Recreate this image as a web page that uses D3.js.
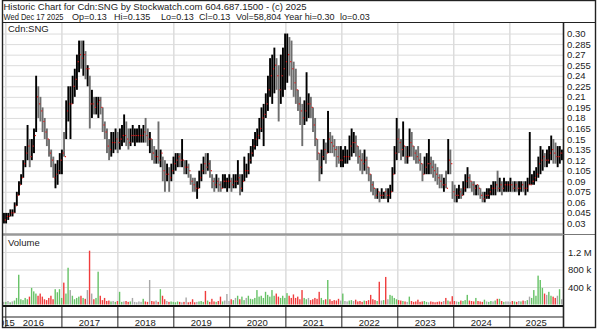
<!DOCTYPE html>
<html lang="en">
<head>
  <meta charset="utf-8">
  <title>Historic Chart for Cdn:SNG</title>
  <script src="https://cdn.jsdelivr.net/npm/d3@7/dist/d3.min.js"></script>
  <style>
    body { margin: 0; background: #fff; }
    text { font-family: "Liberation Sans", Arial, sans-serif; fill: #222; }
  </style>
</head>
<body>
  <svg class="chart" width="600" height="334"></svg>
  <script>
    var width = 600, height = 334;

    // time range: ten years, sampled every two weeks
    var startDate = new Date(2015, 11, 17), endDate = new Date(2025, 11, 17);
    var stepDays = 14;

    var years = [2015, 2016, 2017, 2018, 2019, 2020, 2021, 2022, 2023, 2024, 2025];
    var priceTicks = [0.03, 0.045, 0.06, 0.075, 0.09, 0.105, 0.12, 0.135, 0.15, 0.165,
                      0.18, 0.195, 0.21, 0.225, 0.24, 0.255, 0.27, 0.285, 0.30];
    var volTicks = [400000, 800000, 1200000];
    var volTickLabels = ["400 k", "800 k", "1.2 M"];

    var titleLine = "Historic Chart for Cdn:SNG by Stockwatch.com 604.687.1500 - (c) 2025";
    var quoteFields = ["Wed Dec 17 2025", "Op=0.13", "Hi=0.135", "Lo=0.13", "Cl=0.13",
                       "Vol=58,804", "Year hi=0.30", "lo=0.03"];

    // one row per year (first value is Dec 2015)
    var high = [.045,
      .045,.045,.05,.05,.06,.075,.09,.10,.12,.14,.17,.15,.15,.165,.24,.225,.21,.195,.18,.165,.15,.135,.125,.115,.12,.13,
      .135,.16,.205,.225,.225,.24,.25,.27,.29,.29,.29,.275,.255,.24,.22,.21,.21,.21,.21,.195,.175,.165,.15,.16,.16,.165,
      .16,.165,.17,.185,.175,.165,.165,.17,.165,.165,.17,.165,.17,.18,.165,.16,.15,.14,.135,.175,.135,.125,.12,.115,.11,.115,
      .125,.13,.13,.13,.15,.12,.12,.115,.10,.095,.095,.09,.105,.115,.125,.13,.13,.12,.10,.095,.10,.095,.09,.10,.10,.095,
      .10,.095,.10,.10,.12,.10,.10,.125,.115,.13,.14,.15,.16,.165,.18,.195,.20,.215,.24,.265,.27,.28,.265,.255,.27,.28,
      .30,.30,.295,.29,.26,.25,.22,.21,.20,.205,.245,.215,.21,.195,.18,.15,.13,.135,.15,.145,.19,.16,.155,.15,.14,.14,
      .14,.135,.14,.135,.155,.165,.16,.155,.14,.135,.13,.135,.125,.11,.10,.09,.08,.08,.075,.08,.075,.08,.08,.085,.11,.14,
      .18,.165,.15,.175,.14,.14,.165,.16,.14,.135,.14,.13,.115,.125,.13,.15,.125,.12,.115,.11,.10,.10,.095,.105,.15,.135,
      .09,.085,.08,.085,.08,.09,.10,.11,.10,.09,.09,.085,.085,.08,.075,.075,.08,.08,.085,.09,.09,.105,.095,.09,.095,.09,
      .09,.095,.09,.09,.09,.09,.09,.09,.09,.095,.16,.10,.105,.11,.125,.14,.135,.13,.135,.14,.155,.15,.145,.14,.14,.135];

    var low = [.03,
      .03,.035,.04,.04,.045,.055,.07,.085,.095,.11,.12,.11,.12,.13,.16,.18,.175,.16,.15,.14,.125,.11,.095,.08,.085,.10,
      .10,.125,.15,.175,.15,.20,.21,.22,.245,.25,.24,.235,.225,.165,.18,.185,.185,.18,.185,.16,.15,.13,.12,.125,.13,.135,
      .13,.135,.14,.145,.14,.135,.14,.145,.14,.145,.145,.145,.145,.145,.14,.13,.12,.115,.115,.115,.11,.09,.075,.09,.075,.09,
      .10,.105,.11,.11,.11,.10,.10,.095,.085,.075,.075,.065,.08,.09,.10,.10,.105,.095,.08,.075,.08,.075,.075,.08,.08,.075,
      .08,.075,.08,.08,.085,.07,.075,.09,.095,.10,.115,.125,.135,.14,.15,.16,.14,.18,.19,.21,.20,.215,.22,.175,.20,.21,
      .22,.23,.24,.22,.21,.20,.19,.17,.14,.17,.175,.18,.18,.16,.14,.12,.09,.10,.12,.115,.13,.13,.13,.125,.11,.115,
      .11,.11,.115,.115,.12,.125,.13,.125,.115,.105,.10,.105,.10,.09,.075,.07,.065,.065,.06,.065,.065,.065,.06,.065,.075,.10,
      .12,.13,.12,.125,.115,.115,.125,.125,.12,.115,.115,.105,.09,.10,.10,.10,.10,.095,.09,.085,.08,.08,.075,.08,.10,.10,
      .065,.06,.06,.065,.065,.07,.075,.08,.08,.075,.07,.07,.07,.065,.06,.06,.065,.065,.07,.07,.07,.075,.075,.07,.075,.075,
      .075,.075,.075,.075,.075,.07,.075,.075,.07,.075,.085,.085,.085,.09,.095,.10,.105,.11,.11,.115,.12,.115,.115,.11,.115,.12];

    var close = [.035,
      .04,.04,.045,.045,.055,.07,.085,.095,.115,.13,.14,.125,.14,.155,.21,.20,.19,.175,.16,.15,.13,.12,.095,.10,.105,.12,
      .13,.125,.19,.20,.20,.225,.235,.26,.27,.265,.27,.25,.25,.20,.20,.195,.20,.205,.195,.17,.16,.14,.135,.145,.145,.15,
      .145,.15,.155,.155,.15,.145,.155,.155,.155,.155,.155,.155,.16,.155,.15,.15,.13,.125,.125,.12,.13,.105,.10,.10,.095,.105,
      .115,.12,.125,.12,.12,.11,.11,.105,.09,.085,.08,.08,.095,.105,.115,.11,.115,.105,.09,.085,.09,.085,.08,.09,.09,.09,
      .09,.085,.09,.09,.095,.08,.09,.105,.105,.12,.13,.14,.15,.155,.165,.18,.185,.20,.22,.24,.25,.255,.24,.22,.24,.25,
      .26,.27,.26,.25,.23,.22,.20,.19,.18,.19,.20,.20,.195,.17,.15,.13,.11,.125,.135,.13,.15,.145,.14,.135,.125,.12,
      .12,.125,.125,.125,.14,.145,.145,.14,.125,.12,.115,.12,.11,.10,.085,.08,.07,.075,.07,.07,.075,.07,.07,.075,.10,.13,
      .15,.145,.135,.14,.125,.125,.145,.14,.13,.125,.12,.115,.10,.11,.115,.115,.11,.105,.10,.095,.09,.085,.085,.08,.12,.115,
      .075,.07,.07,.075,.07,.08,.09,.095,.09,.085,.08,.085,.08,.07,.065,.07,.07,.075,.08,.08,.085,.08,.085,.08,.085,.085,
      .085,.085,.08,.085,.08,.08,.085,.08,.08,.085,.085,.09,.095,.10,.115,.12,.125,.12,.12,.13,.135,.13,.125,.125,.13,.13];

    // volume in thousands of shares
    var volume = [60,
      60,80,50,70,90,150,680,120,100,150,120,180,380,300,250,200,250,180,120,100,150,200,120,350,280,350,
      150,500,250,840,330,200,120,150,180,200,150,130,330,1230,250,120,150,750,200,100,150,80,90,70,80,60,
      80,290,60,70,80,60,70,150,60,50,70,60,130,70,60,560,80,70,90,60,350,200,120,80,60,70,
      60,50,70,60,50,60,160,50,60,120,50,60,70,80,60,310,90,60,130,70,60,80,180,70,90,240,
      80,120,100,150,200,120,180,100,150,200,130,120,150,330,180,200,150,290,220,180,330,200,250,180,150,200,
      150,260,200,150,230,150,180,120,330,150,120,150,100,120,150,130,290,150,100,120,560,120,80,100,90,130,
      90,250,80,70,90,100,80,110,70,80,60,90,80,100,220,120,100,80,520,90,100,630,120,220,200,150,
      120,100,90,80,70,60,180,80,60,70,110,60,70,80,60,50,70,60,50,60,70,60,80,150,90,70,
      190,80,70,60,90,80,100,220,90,80,70,150,80,70,60,110,70,60,80,70,90,130,130,80,60,70,
      70,60,80,70,60,80,70,90,80,100,180,150,330,200,660,560,380,250,220,290,200,180,150,200,350,120];

    var data = high.map(function(h, i) {
      return {
        date: d3.timeDay.offset(startDate, i * stepDays),
        hi: h, lo: low[i], cl: close[i], vol: volume[i] * 1000,
        dir: i === 0 ? 0 : Math.sign(close[i] - close[i - 1])
      };
    });

    var left = 3, right = 563, outerRight = 595;
    var priceTop = 23, priceBot = 234, volTop = 236, volBot = 306, axisMid = 317, axisBot = 327;

    var x = d3.scaleTime().domain([startDate, endDate]).range([left, right]);
    var y = d3.scaleLinear().domain([0.015, 0.315]).range([priceBot, priceTop]);
    var yv = d3.scaleLinear().domain([0, 1200000]).range([304.5, 252]);
    var fmt = function(v) { return Math.round(v * 1000) % 10 === 0 ? v.toFixed(2) : v.toFixed(3); };
    var yearStarts = x.ticks(d3.timeYear);

    var svg = d3.select("svg.chart");
    svg.append("rect").attr("width", width).attr("height", height).attr("fill", "#fff");

    var defs = svg.append("defs");
    defs.append("clipPath").attr("id", "clipPrice").append("rect")
        .attr("x", left).attr("y", priceTop).attr("width", right - left).attr("height", priceBot - priceTop);
    defs.append("clipPath").attr("id", "clipVol").append("rect")
        .attr("x", left).attr("y", volTop).attr("width", right - left).attr("height", volBot - volTop);
    defs.append("clipPath").attr("id", "clipAxis").append("rect")
        .attr("x", left).attr("y", axisMid).attr("width", right - left).attr("height", axisBot - axisMid);

    // grid lines
    function styleGrid(g) {
      g.select(".domain").remove();
      g.selectAll("line").attr("stroke", "#dcdcdc");
    }
    svg.append("g")
       .attr("transform", "translate(" + right + ",0)")
       .call(d3.axisLeft(y).tickValues(priceTicks).tickSize(right - left).tickFormat(""))
       .call(styleGrid);
    svg.append("g")
       .attr("transform", "translate(0," + priceTop + ")")
       .call(d3.axisBottom(x).tickValues(yearStarts).tickSize(priceBot - priceTop).tickFormat(""))
       .call(styleGrid)
       .selectAll("line").attr("stroke-width", 1.5);
    svg.append("g")
       .attr("transform", "translate(" + right + ",0)")
       .call(d3.axisLeft(yv).tickValues(volTicks).tickSize(right - left).tickFormat(""))
       .call(styleGrid);
    svg.append("g")
       .attr("transform", "translate(0," + volTop + ")")
       .call(d3.axisBottom(x).tickValues(yearStarts).tickSize(volBot - volTop).tickFormat(""))
       .call(styleGrid)
       .selectAll("line").attr("stroke-width", 1.5);

    // price bars
    var barW = 1.9;
    var price = svg.append("g").attr("clip-path", "url(#clipPrice)");
    price.selectAll("rect.bar")
         .data(data)
         .join("rect")
         .attr("class", "bar")
         .attr("x", function(d) { return x(d.date); })
         .attr("y", function(d) { return y(d.hi); })
         .attr("width", barW)
         .attr("height", function(d) { return Math.max(1, y(d.lo) - y(d.hi)); })
         .attr("fill", function(d) { return d.dir < 0 ? "#6e6e6e" : "#000"; });
    price.selectAll("rect.cl")
         .data(data)
         .join("rect")
         .attr("class", "cl")
         .attr("x", function(d) { return x(d.date) + barW - 0.2; })
         .attr("y", function(d) { return y(d.cl) - 0.6; })
         .attr("width", 1.2)
         .attr("height", 1.2)
         .attr("fill", "#e41a1a");

    // volume bars
    svg.append("g").attr("clip-path", "url(#clipVol)")
       .selectAll("rect")
       .data(data)
       .join("rect")
       .attr("x", function(d) { return x(d.date); })
       .attr("y", function(d) { return yv(d.vol); })
       .attr("width", 1.4)
       .attr("height", function(d) { return yv(0) - yv(d.vol); })
       .attr("fill", function(d) { return d.dir > 0 ? "#66c266" : d.dir < 0 ? "#f03c3c" : "#a8a8a8"; });

    // right axis labels
    svg.append("g")
       .attr("transform", "translate(" + (right + 1) + ",0)")
       .call(d3.axisRight(y).tickValues(priceTicks).tickSize(0).tickPadding(3).tickFormat(fmt))
       .call(function(g) { g.select(".domain").remove(); })
       .selectAll("text").attr("font-size", 9.5).attr("fill", "#222");
    svg.append("g")
       .attr("transform", "translate(" + (right + 1) + ",0)")
       .call(d3.axisRight(yv).tickValues(volTicks).tickSize(0).tickPadding(4)
               .tickFormat(function(d, i) { return volTickLabels[i]; }))
       .call(function(g) { g.select(".domain").remove(); })
       .selectAll("text").attr("font-size", 9.5).attr("fill", "#222");

    // year separators and labels on the time axis
    svg.append("g")
       .attr("transform", "translate(0," + volBot + ")")
       .call(d3.axisBottom(x).tickValues(yearStarts).tickSize(axisBot - volBot).tickFormat(""))
       .call(function(g) { g.select(".domain").remove(); })
       .selectAll("line").attr("stroke", "#222");
    svg.append("g").attr("clip-path", "url(#clipAxis)")
       .selectAll("text")
       .data(years)
       .join("text")
       .attr("x", function(yr) {
         var a = new Date(Math.max(startDate, new Date(yr, 0, 1)));
         var b = new Date(Math.min(endDate, new Date(yr + 1, 0, 1)));
         return (x(a) + x(b)) / 2;
       })
       .attr("y", 325.5)
       .attr("text-anchor", "middle")
       .attr("font-size", 9.5)
       .text(function(yr) { return yr; });

    // frame lines
    var lines = [
      [left, 22.5, outerRight, 22.5, "#222", 1.2],
      [right + 0.5, 22.5, right + 0.5, axisBot, "#222", 1.6],
      [left, 234.5, right, 234.5, "#999", 2.5],
      [right, 234.5, outerRight, 234.5, "#777", 1],
      [left, volBot, right, volBot, "#111", 2],
      [left, axisMid, right, axisMid, "#222", 1]
    ];
    svg.append("g").selectAll("line")
       .data(lines)
       .join("line")
       .attr("x1", function(d) { return d[0]; }).attr("y1", function(d) { return d[1]; })
       .attr("x2", function(d) { return d[2]; }).attr("y2", function(d) { return d[3]; })
       .attr("stroke", function(d) { return d[4]; })
       .attr("stroke-width", function(d) { return d[5]; });
    svg.append("rect")
       .attr("x", 2.5).attr("y", 0.5).attr("width", outerRight - 2).attr("height", axisBot)
       .attr("fill", "none").attr("stroke", "#222").attr("stroke-width", 1.4);

    // titles
    svg.append("text").attr("x", 3.5).attr("y", 9.5).attr("font-size", 9.5).text(titleLine);
    var fieldX = [3.5, 72, 114, 161, 199, 236, 284, 340];
    svg.append("g").selectAll("text")
       .data(quoteFields)
       .join("text")
       .attr("x", function(d, i) { return fieldX[i]; })
       .attr("y", 19.5)
       .attr("font-size", 9)
       .attr("textLength", function(d, i) { return i === 0 ? 60 : null; })
       .attr("lengthAdjust", "spacingAndGlyphs")
       .text(function(d) { return d; });
    svg.append("text").attr("x", 8).attr("y", 32).attr("font-size", 9.5).attr("fill", "#333").text("Cdn:SNG");
    svg.append("text").attr("x", 8).attr("y", 246).attr("font-size", 9.5).attr("fill", "#333").text("Volume");
  </script>
</body>
</html>
